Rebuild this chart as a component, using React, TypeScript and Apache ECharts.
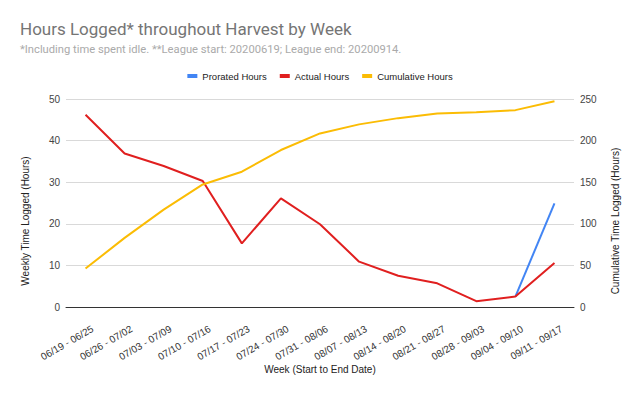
import React, { useEffect, useRef } from "react";
import * as echarts from "echarts";

const weeks = [
  "06/19 - 06/25", "06/26 - 07/02", "07/03 - 07/09", "07/10 - 07/16", "07/17 - 07/23",
  "07/24 - 07/30", "07/31 - 08/06", "08/07 - 08/13", "08/14 - 08/20", "08/21 - 08/27",
  "08/28 - 09/03", "09/04 - 09/10", "09/11 - 09/17",
];
const proratedHours = [null, null, null, null, null, null, null, null, null, null, null, 2.5, 24.9];
const actualHours = [46.2, 36.9, 33.9, 30.3, 15.3, 26.1, 19.9, 10.9, 7.5, 5.7, 1.4, 2.5, 10.6];
const cumulativeHours = [46.2, 83.1, 117.0, 147.3, 162.6, 188.7, 208.6, 219.5, 227.0, 232.7, 234.1, 236.6, 247.2];
const leftTicks = [0, 10, 20, 30, 40, 50];
const rightTicks = [0, 50, 100, 150, 200, 250];

const TITLE_FONT = "Roboto, Arial, sans-serif";
const FONT = "Arial, 'Liberation Sans', sans-serif";

export default function App() {
  const ref = useRef<HTMLDivElement>(null);
  useEffect(() => {
    if (!ref.current) return;
    const chart = echarts.init(ref.current, undefined, { renderer: "svg" });
    const axisLabelStyle = { color: "#444", fontSize: 10, fontFamily: FONT };
    chart.setOption({
      animation: false,
      backgroundColor: "#fff",
      textStyle: { fontFamily: FONT },
      title: [
        {
          text: "Hours Logged* throughout Harvest by Week",
          left: 15,
          top: 15,
          textStyle: { fontSize: 17, fontWeight: "normal", color: "#757575", fontFamily: TITLE_FONT },
        },
        {
          text: "*Including time spent idle. **League start: 20200619; League end: 20200914.",
          left: 15,
          top: 39,
          textStyle: { fontSize: 11.2, fontWeight: "normal", color: "#aaaaaa", fontFamily: TITLE_FONT },
        },
      ],
      legend: {
        top: 66,
        left: "center",
        itemWidth: 10,
        itemHeight: 4,
        itemGap: 13,
        icon: "rect",
        textStyle: { fontSize: 9.5, color: "#222", fontFamily: FONT },
        data: ["Prorated Hours", "Actual Hours", "Cumulative Hours"],
      },
      grid: [
        { left: 66, right: 66, top: 99, bottom: 87 },
        { left: 73, right: 59, top: 99, bottom: 87 },
      ],
      xAxis: [
        {
          type: "category",
          gridIndex: 0,
          data: weeks,
          boundaryGap: true,
          axisLine: { lineStyle: { color: "#333" } },
          axisTick: { alignWithLabel: true, length: 5, lineStyle: { color: "#333" } },
          axisLabel: { show: false },
          name: "Week (Start to End Date)",
          nameLocation: "middle",
          nameGap: 57,
          nameTextStyle: { fontSize: 10, color: "#222", fontFamily: FONT },
        },
        {
          type: "category",
          gridIndex: 0,
          data: weeks,
          position: "bottom",
          boundaryGap: true,
          axisLine: { show: false },
          axisTick: { alignWithLabel: true, inside: true, length: 5, lineStyle: { color: "#333" } },
          axisLabel: { show: false },
        },
        {
          type: "category",
          gridIndex: 1,
          data: weeks,
          position: "bottom",
          boundaryGap: true,
          axisLine: { show: false },
          axisTick: { show: false },
          axisLabel: { ...axisLabelStyle, fontSize: 10, color: "#333", rotate: 30, margin: 21, interval: 0 },
        },
      ],
      yAxis: [
        {
          type: "value",
          gridIndex: 0,
          min: leftTicks[0],
          max: leftTicks[leftTicks.length - 1],
          interval: 10,
          axisLine: { show: false },
          axisTick: { show: false },
          axisLabel: { ...axisLabelStyle, margin: 6 },
          splitLine: { lineStyle: { color: "#d9d9d9" } },
        },
        {
          type: "value",
          gridIndex: 0,
          min: rightTicks[0],
          max: rightTicks[rightTicks.length - 1],
          interval: 50,
          axisLine: { show: false },
          axisTick: { show: false },
          axisLabel: { ...axisLabelStyle, margin: 6 },
          splitLine: { show: false },
        },
        {
          type: "value",
          gridIndex: 1,
          show: false,
        },
      ],
      graphic: [
        {
          type: "text",
          x: 25,
          y: 221,
          rotation: Math.PI / 2,
          style: {
            text: "Weekly Time Logged (Hours)",
            fontSize: 10,
            fontFamily: FONT,
            fill: "#222",
            align: "center",
            verticalAlign: "middle",
          },
        },
        {
          type: "text",
          x: 615,
          y: 221,
          rotation: Math.PI / 2,
          style: {
            text: "Cumulative Time Logged (Hours)",
            fontSize: 10,
            fontFamily: FONT,
            fill: "#222",
            align: "center",
            verticalAlign: "middle",
          },
        },
      ],
      series: [
        {
          name: "Prorated Hours",
          type: "line",
          data: proratedHours,
          xAxisIndex: 0,
          yAxisIndex: 0,
          showSymbol: false,
          symbol: "none",
          connectNulls: false,
          lineStyle: { color: "#4285f4", width: 2 },
          itemStyle: { color: "#4285f4" },
        },
        {
          name: "Actual Hours",
          type: "line",
          data: actualHours,
          xAxisIndex: 0,
          yAxisIndex: 0,
          showSymbol: false,
          symbol: "none",
          lineStyle: { color: "#e01f1f", width: 2 },
          itemStyle: { color: "#e01f1f" },
        },
        {
          name: "Cumulative Hours",
          type: "line",
          data: cumulativeHours,
          xAxisIndex: 0,
          yAxisIndex: 1,
          showSymbol: false,
          symbol: "none",
          lineStyle: { color: "#fbbc04", width: 2 },
          itemStyle: { color: "#fbbc04" },
        },
      ],
    });
    return () => chart.dispose();
  }, []);
  return <div ref={ref} style={{ width: 640, height: 394, margin: -8 }} />;
}
